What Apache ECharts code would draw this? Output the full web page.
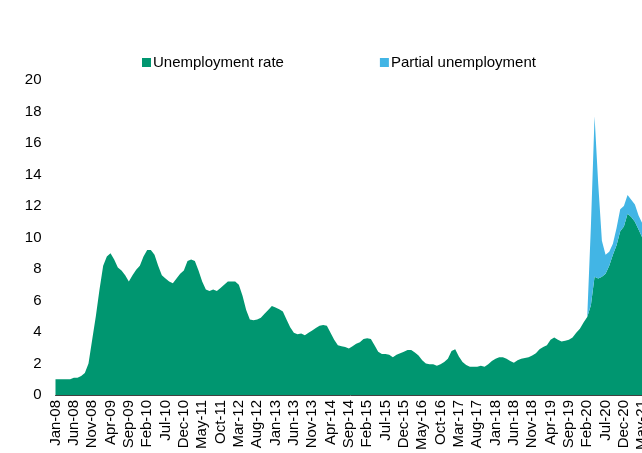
<!DOCTYPE html>
<html>
<head>
<meta charset="utf-8">
<script src="https://cdn.jsdelivr.net/npm/echarts@6/dist/echarts.min.js"></script>
<style>
  html, body { margin: 0; padding: 0; background: #fff; overflow: hidden; }
  #chart { width: 680px; height: 453px; }
</style>
</head>
<body>
<div id="chart"></div>
<script>
// Monthly registered unemployment, Jan-08 to Jun-21 (% of labour force)
const monthNames = ['Jan','Feb','Mar','Apr','May','Jun','Jul','Aug','Sep','Oct','Nov','Dec'];
const years = ['08','09','10','11','12','13','14','15','16','17','18','19','20','21'];
const lastYearMonths = 6;

const unemploymentRate = [
  1.0, 1.0, 1.0, 1.0, 1.0, 1.1, 1.1, 1.2, 1.4, 2.0, 3.5, 5.0,        // 2008
  6.7, 8.2, 8.8, 9.0, 8.6, 8.1, 7.9, 7.6, 7.2, 7.6, 7.95, 8.2,       // 2009
  8.8, 9.2, 9.2, 8.9, 8.2, 7.6, 7.4, 7.2, 7.1, 7.4, 7.7, 7.9,        // 2010
  8.5, 8.6, 8.5, 7.9, 7.2, 6.7, 6.6, 6.7, 6.6, 6.8, 7.0, 7.2,        // 2011
  7.2, 7.2, 7.0, 6.3, 5.4, 4.8, 4.75, 4.8, 4.9, 5.15, 5.4, 5.65,     // 2012
  5.55, 5.45, 5.3, 4.8, 4.3, 3.95, 3.85, 3.9, 3.8, 3.95, 4.1, 4.25,  // 2013
  4.4, 4.45, 4.4, 3.95, 3.5, 3.15, 3.1, 3.05, 2.95, 3.1, 3.25, 3.35, // 2014
  3.55, 3.6, 3.55, 3.15, 2.75, 2.6, 2.6, 2.55, 2.4, 2.55, 2.65, 2.75,// 2015
  2.85, 2.85, 2.7, 2.5, 2.2, 2.0, 1.95, 1.95, 1.85, 1.95, 2.1, 2.3,  // 2016
  2.8, 2.9, 2.45, 2.1, 1.9, 1.8, 1.8, 1.8, 1.85, 1.8, 1.95, 2.15,    // 2017
  2.3, 2.4, 2.4, 2.3, 2.15, 2.05, 2.2, 2.3, 2.35, 2.4, 2.5, 2.65,    // 2018
  2.9, 3.05, 3.15, 3.5, 3.65, 3.5, 3.4, 3.45, 3.5, 3.65, 3.95, 4.2,  // 2019
  4.6, 4.95, 5.7, 7.5, 7.4, 7.5, 7.7, 8.2, 8.9, 9.5, 10.4, 10.7,     // 2020
  11.5, 11.3, 11.0, 10.5, 10.0, 9.0                                  // 2021
];

const partialUnemployment = [
  0, 0, 0, 0, 0, 0, 0, 0, 0, 0, 0, 0,          // 2008
  0, 0, 0, 0, 0, 0, 0, 0, 0, 0, 0, 0,          // 2009
  0, 0, 0, 0, 0, 0, 0, 0, 0, 0, 0, 0,          // 2010
  0, 0, 0, 0, 0, 0, 0, 0, 0, 0, 0, 0,          // 2011
  0, 0, 0, 0, 0, 0, 0, 0, 0, 0, 0, 0,          // 2012
  0, 0, 0, 0, 0, 0, 0, 0, 0, 0, 0, 0,          // 2013
  0, 0, 0, 0, 0, 0, 0, 0, 0, 0, 0, 0,          // 2014
  0, 0, 0, 0, 0, 0, 0, 0, 0, 0, 0, 0,          // 2015
  0, 0, 0, 0, 0, 0, 0, 0, 0, 0, 0, 0,          // 2016
  0, 0, 0, 0, 0, 0, 0, 0, 0, 0, 0, 0,          // 2017
  0, 0, 0, 0, 0, 0, 0, 0, 0, 0, 0, 0,          // 2018
  0, 0, 0, 0, 0, 0, 0, 0, 0, 0, 0, 0,          // 2019
  0, 0, 5.0, 10.2, 6.0, 2.3, 1.2, 0.9, 0.7, 1.1, 1.4, 1.3, // 2020
  1.2, 1.1, 1.1, 0.9, 0.9, 0.7                 // 2021
];

const yTicks = { min: 0, max: 20, step: 2 };

// Month labels "Jan-08" ... "Jun-21"
const categories = [];
years.forEach((yy, k) => {
  const n = (k === years.length - 1) ? lastYearMonths : 12;
  for (let m = 0; m < n; m++) categories.push(monthNames[m] + '-' + yy);
});

const GREEN = '#009670';
const BLUE = '#42B5E5';
const FONT = '"Liberation Sans", Arial, sans-serif';

const chart = echarts.init(document.getElementById('chart'), null, { renderer: 'canvas' });

chart.setOption({
  animation: false,
  backgroundColor: '#ffffff',
  textStyle: { fontFamily: FONT },
  legend: {
    left: 137,
    top: 50,
    itemWidth: 9,
    itemHeight: 9,
    itemGap: 96,
    icon: 'rect',
    textStyle: { fontFamily: FONT, fontSize: 15, color: '#000', padding: [0, 0, 0, -3] },
    data: ['Unemployment rate', 'Partial unemployment']
  },
  grid: {
    left: 55.5,
    right: 34.1,
    top: 80,
    height: 315,
    containLabel: false
  },
  xAxis: {
    type: 'category',
    data: categories,
    boundaryGap: false,
    axisLine: { show: true, lineStyle: { color: '#404040', width: 1 } },
    axisTick: { show: false },
    axisLabel: {
      interval: 4,
      rotate: 90,
      margin: 5,
      fontFamily: FONT,
      fontSize: 15,
      color: '#000'
    },
    splitLine: { show: false }
  },
  yAxis: {
    type: 'value',
    min: yTicks.min,
    max: yTicks.max,
    interval: yTicks.step,
    axisLine: { show: false },
    axisTick: { show: false },
    splitLine: { show: false },
    axisLabel: {
      margin: 14,
      fontFamily: FONT,
      fontSize: 15,
      color: '#000'
    }
  },
  series: [
    {
      name: 'Unemployment rate',
      type: 'line',
      stack: 'total',
      data: unemploymentRate,
      showSymbol: false,
      symbol: 'none',
      lineStyle: { width: 0 },
      itemStyle: { color: GREEN },
      areaStyle: { color: GREEN, opacity: 1 }
    },
    {
      name: 'Partial unemployment',
      type: 'line',
      stack: 'total',
      data: partialUnemployment,
      showSymbol: false,
      symbol: 'none',
      lineStyle: { width: 0 },
      itemStyle: { color: BLUE },
      areaStyle: { color: BLUE, opacity: 1 }
    }
  ]
});
</script>
</body>
</html>
